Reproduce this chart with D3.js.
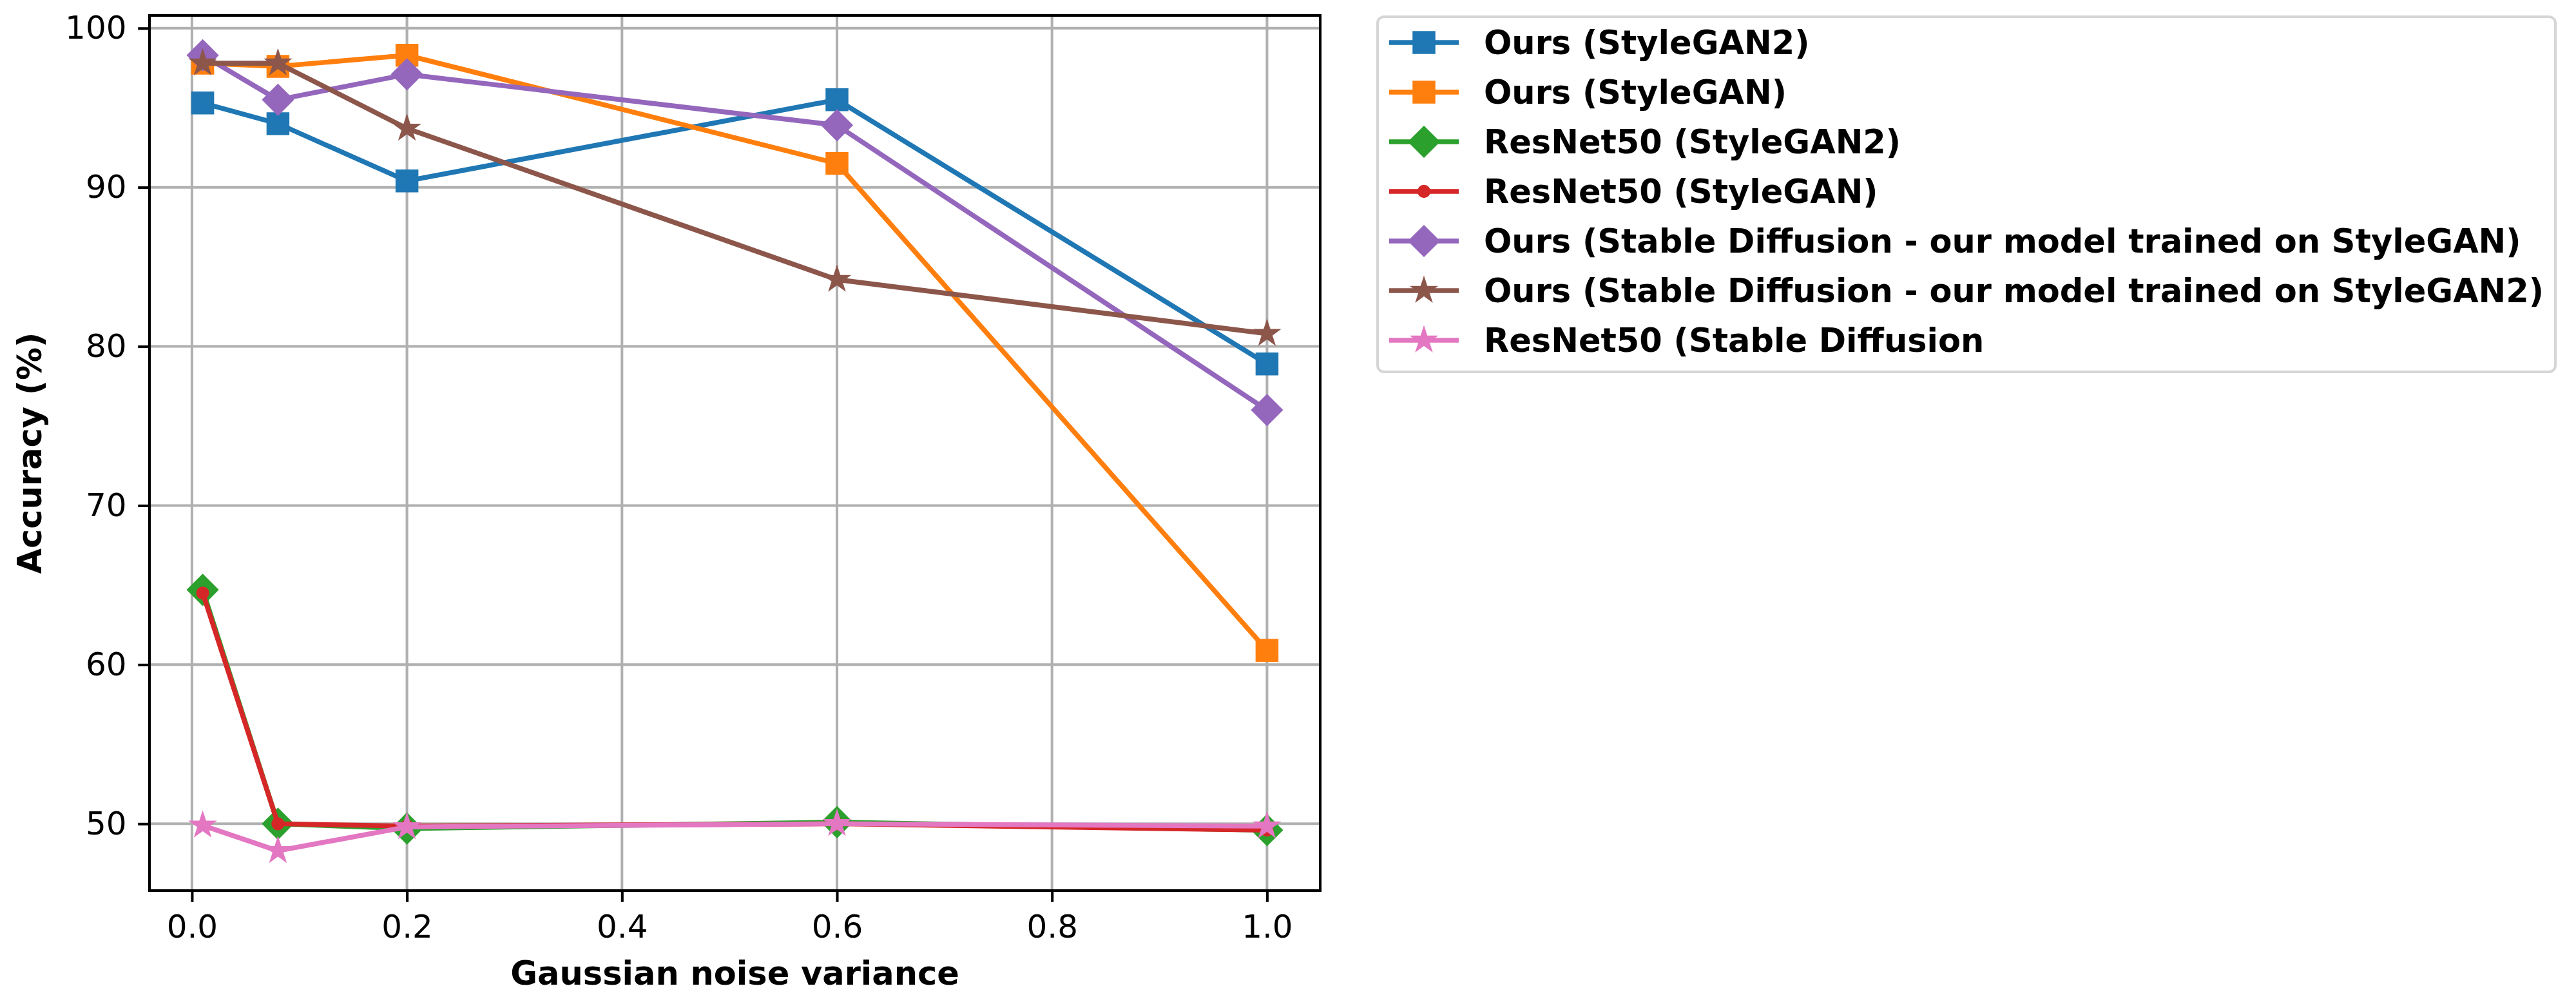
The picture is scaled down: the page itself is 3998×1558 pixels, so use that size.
<!DOCTYPE html>
<html lang="en">
  <head>
    <meta charset="UTF-8" />
    <title>Accuracy vs Gaussian noise variance</title>
    <style>
      body {
        margin: 0;
        background: #fff;
        font-family: "DejaVu Sans", sans-serif;
      }
      .tick text {
        font-size: 50px;
        fill: #000;
      }
      .axis-label {
        font-size: 51px;
        font-weight: bold;
      }
      .legend text {
        font-size: 51px;
        font-weight: bold;
      }
    </style>
  </head>
  <body>
    <svg id="chart" width="3998" height="1558"></svg>
  </body>
  <script src="https://cdn.jsdelivr.net/npm/d3@7"></script>
  <script>
    // noise variance levels on the x axis
    const variances = [0.01, 0.08, 0.2, 0.6, 1.0];

    const oursStyleGAN2 = [95.3, 94.0, 90.4, 95.5, 78.9];
    const oursStyleGAN = [97.8, 97.6, 98.3, 91.5, 60.9];
    const resnetStyleGAN2 = [64.7, 50.0, 49.7, 50.1, 49.6];
    const resnetStyleGAN = [64.5, 50.0, 49.85, 50.0, 49.6];
    const oursSDonStyleGAN = [98.3, 95.5, 97.1, 93.9, 76.0];
    const oursSDonStyleGAN2 = [97.8, 97.8, 93.7, 84.2, 80.8];
    const resnetSD = [49.9, 48.3, 49.8, 50.0, 49.85];

    const xTicks = [0.0, 0.2, 0.4, 0.6, 0.8, 1.0];
    const yTicks = [50, 60, 70, 80, 90, 100];

    const series = [
      { name: "Ours (StyleGAN2)", values: oursStyleGAN2, color: "#1f77b4", marker: "square" },
      { name: "Ours (StyleGAN)", values: oursStyleGAN, color: "#ff7f0e", marker: "square" },
      { name: "ResNet50 (StyleGAN2)", values: resnetStyleGAN2, color: "#2ca02c", marker: "diamond" },
      { name: "ResNet50 (StyleGAN)", values: resnetStyleGAN, color: "#d62728", marker: "point" },
      { name: "Ours (Stable Diffusion - our model trained on StyleGAN)", values: oursSDonStyleGAN, color: "#9467bd", marker: "diamond" },
      { name: "Ours (Stable Diffusion - our model trained on StyleGAN2)", values: oursSDonStyleGAN2, color: "#8c564b", marker: "star" },
      { name: "ResNet50 (Stable Diffusion", values: resnetSD, color: "#e377c2", marker: "star" },
    ];

    const pt = 5.07; // pixels per point
    const ms = 6 * pt; // default marker size

    const plotLeft = 232, plotRight = 2049, plotTop = 24, plotBottom = 1382;

    // matplotlib-like 5% margins around the data
    const pad = (ext) => {
      const d = (ext[1] - ext[0]) * 0.05;
      return [ext[0] - d, ext[1] + d];
    };
    const allVals = series.flatMap((s) => s.values);
    const x = d3.scaleLinear().domain(pad(d3.extent(variances))).range([plotLeft, plotRight]);
    const y = d3.scaleLinear().domain(pad(d3.extent(allVals))).range([plotBottom, plotTop]);

    function markerPath(type) {
      if (type === "square") {
        const h = ms / 2;
        return `M${-h},${-h}H${h}V${h}H${-h}Z`;
      }
      if (type === "diamond") {
        const h = (ms * Math.SQRT2) / 2;
        return `M0,${-h}L${h},0L0,${h}L${-h},0Z`;
      }
      if (type === "point") {
        const r = ms / 4;
        return `M${r},0A${r},${r} 0 1,1 ${-r},0A${r},${r} 0 1,1 ${r},0Z`;
      }
      // five point star
      const R = ms / 2, r = R * 0.381966;
      let p = "";
      for (let i = 0; i < 10; i++) {
        const a = (Math.PI / 5) * i - Math.PI / 2;
        const rad = i % 2 === 0 ? R : r;
        p += (i ? "L" : "M") + (rad * Math.cos(a)).toFixed(2) + "," + (rad * Math.sin(a)).toFixed(2);
      }
      return p + "Z";
    }

    const svg = d3.select("#chart");

    // grid
    const grid = svg.append("g");
    grid.selectAll(".gx")
      .data(xTicks)
      .join("line")
      .attr("class", "gx")
      .attr("x1", (d) => x(d))
      .attr("x2", (d) => x(d))
      .attr("y1", plotTop)
      .attr("y2", plotBottom)
      .attr("stroke", "#b0b0b0")
      .attr("stroke-width", 0.8 * pt);
    grid.selectAll(".gy")
      .data(yTicks)
      .join("line")
      .attr("class", "gy")
      .attr("x1", plotLeft)
      .attr("x2", plotRight)
      .attr("y1", (d) => y(d))
      .attr("y2", (d) => y(d))
      .attr("stroke", "#b0b0b0")
      .attr("stroke-width", 0.8 * pt);

    // lines and markers
    const line = d3.line()
      .x((d) => x(d[0]))
      .y((d) => y(d[1]));

    const plot = svg.append("g");
    series.forEach((s) => {
      const pts = variances.map((v, i) => [v, s.values[i]]);
      const g = plot.append("g");
      g.append("path")
        .attr("d", line(pts))
        .attr("fill", "none")
        .attr("stroke", s.color)
        .attr("stroke-width", 1.5 * pt)
        .attr("stroke-linejoin", "round")
        .attr("stroke-linecap", "square");
      g.selectAll("path.m")
        .data(pts)
        .join("path")
        .attr("class", "m")
        .attr("d", markerPath(s.marker))
        .attr("transform", (d) => `translate(${x(d[0])},${y(d[1])})`)
        .attr("fill", s.color)
        .attr("stroke", s.color)
        .attr("stroke-width", pt)
        .attr("stroke-linejoin", "miter");
    });

    // axes
    const xAxis = svg.append("g")
      .attr("transform", `translate(0,${plotBottom})`)
      .call(d3.axisBottom(x).tickValues(xTicks).tickFormat(d3.format(".1f")).tickSize(3.5 * pt).tickPadding(3.5 * pt));
    const yAxis = svg.append("g")
      .attr("transform", `translate(${plotLeft},0)`)
      .call(d3.axisLeft(y).tickValues(yTicks).tickFormat(d3.format("d")).tickSize(3.5 * pt).tickPadding(3.5 * pt));
    [xAxis, yAxis].forEach((a) => {
      a.select(".domain").remove();
      a.selectAll(".tick line").attr("stroke", "#000").attr("stroke-width", 0.8 * pt);
      a.selectAll(".tick text").attr("font-family", "DejaVu Sans").attr("font-size", 50);
    });
    xAxis.selectAll(".tick text").attr("dy", "0.75em");

    // frame
    svg.append("rect")
      .attr("x", plotLeft)
      .attr("y", plotTop)
      .attr("width", plotRight - plotLeft)
      .attr("height", plotBottom - plotTop)
      .attr("fill", "none")
      .attr("stroke", "#000")
      .attr("stroke-width", 0.8 * pt);

    svg.append("text")
      .attr("class", "axis-label")
      .attr("x", (plotLeft + plotRight) / 2)
      .attr("y", 1528)
      .attr("text-anchor", "middle")
      .text("Gaussian noise variance");

    svg.append("text")
      .attr("class", "axis-label")
      .attr("transform", `translate(64,${(plotTop + plotBottom) / 2}) rotate(-90)`)
      .attr("text-anchor", "middle")
      .text("Accuracy (%)");

    // legend
    const legend = svg.append("g").attr("class", "legend");
    legend.append("rect")
      .attr("x", 2138)
      .attr("y", 26)
      .attr("width", 3966 - 2138)
      .attr("height", 577 - 26)
      .attr("rx", 10)
      .attr("fill", "#fff")
      .attr("fill-opacity", 0.8)
      .attr("stroke", "#d6d6d6")
      .attr("stroke-width", 0.8 * pt);

    const rowY = (i) => 66 + i * 77;
    const items = legend.selectAll("g.item")
      .data(series)
      .join("g")
      .attr("class", "item")
      .attr("transform", (d, i) => `translate(0,${rowY(i)})`);
    items.append("line")
      .attr("x1", 2156)
      .attr("x2", 2264)
      .attr("stroke", (d) => d.color)
      .attr("stroke-width", 1.5 * pt);
    items.append("path")
      .attr("d", (d) => markerPath(d.marker))
      .attr("transform", "translate(2210,0)")
      .attr("fill", (d) => d.color)
      .attr("stroke", (d) => d.color)
      .attr("stroke-width", pt);
    items.append("text")
      .attr("x", 2303)
      .attr("dy", "0.36em")
      .text((d) => d.name);
  </script>
</html>
